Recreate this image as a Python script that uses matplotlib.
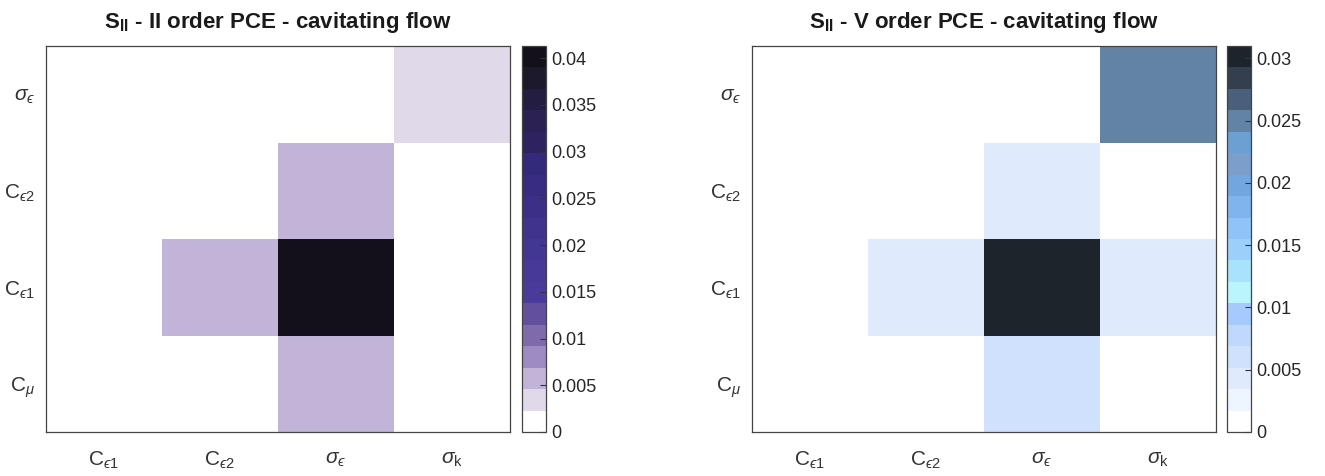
import numpy as np
import matplotlib
matplotlib.use("Agg")
import matplotlib.pyplot as plt
from matplotlib.colors import ListedColormap

plt.rcParams["font.family"] = ["Liberation Sans", "DejaVu Sans"]
plt.rcParams["mathtext.fontset"] = "custom"
plt.rcParams["mathtext.rm"] = "Liberation Sans"
plt.rcParams["mathtext.it"] = "Liberation Sans:italic"
plt.rcParams["mathtext.bf"] = "Liberation Sans:bold"
plt.rcParams["mathtext.fallback"] = "stixsans"

# axis labels (lunate epsilon as in the original)
x_labels = ["C$_{\u03f51}$", "C$_{\u03f52}$", r"$\sigma_{" + "\u03f5" + "}$", r"$\sigma_{\rm k}$"]
y_labels = [r"C$_{\mu}$", "C$_{\u03f51}$", "C$_{\u03f52}$", r"$\sigma_{" + "\u03f5" + "}$"]  # bottom -> top

# second order Sobol indices, rows bottom -> top (C_mu, C_e1, C_e2, sigma_e)
s_ii_order2 = np.array([
    [0.0, 0.0, 0.0060, 0.0],
    [0.0, 0.0060, 0.0413, 0.0],
    [0.0, 0.0, 0.0060, 0.0],
    [0.0, 0.0, 0.0, 0.0035],
])
s_ii_order5 = np.array([
    [0.0, 0.0, 0.0060, 0.0],
    [0.0, 0.0043, 0.0310, 0.0043],
    [0.0, 0.0, 0.0043, 0.0],
    [0.0, 0.0, 0.0, 0.0250],
])

# discrete colormaps (bottom -> top)
purple_colors = ["#ffffff", "#e0d9ea", "#c2b4d8", "#9d8cc3", "#7e6bac", "#62509f",
                 "#4a3a9a", "#473998", "#433794", "#3f338e", "#3b2f88", "#372c80",
                 "#332a7b", "#2e2360", "#2b2152", "#241d42", "#1c192d", "#130f1b"]
blue_colors = ["#ffffff", "#eff5fe", "#dfeafc", "#cfe1fc", "#bfd8fc", "#a7cafc",
               "#baf4fc", "#a9e2fb", "#9ccffa", "#90c3f8", "#80b4ec", "#72a6df",
               "#7b9fca", "#6c9fd2", "#6383a5", "#4a5f7a", "#333f4e", "#1e242c"]

panels = [
    (s_ii_order2, purple_colors, 0.0413, np.arange(0, 0.0401, 0.005),
     r"S$_{\mathbf{II}}$ - II order PCE - cavitating flow",
     [46 / 1325, 522 / 1325]),
    (s_ii_order5, blue_colors, 0.0310, np.arange(0, 0.0301, 0.005),
     r"S$_{\mathbf{II}}$ - V order PCE - cavitating flow",
     [752 / 1325, 1227 / 1325]),
]

fig = plt.figure(figsize=(13.25, 4.76), dpi=100)
bottom = 1 - 432 / 476
height = 386 / 476

for data, colors, vmax, ticks, title, (ax_x, cb_x) in panels:
    ax = fig.add_axes([ax_x, bottom, 464 / 1325, height])
    cmap = ListedColormap(colors)
    mesh = ax.pcolormesh(np.arange(5) - 0.5, np.arange(5) - 0.5, data,
                         cmap=cmap, vmin=0, vmax=vmax)
    ax.set_xticks(range(4))
    ax.set_xticklabels(x_labels, fontsize=15, color="#333333")
    ax.set_yticks(range(4))
    ax.set_yticklabels(y_labels, fontsize=15, color="#333333")
    ax.tick_params(length=0)
    ax.tick_params(axis="x", pad=13)
    ax.tick_params(axis="y", pad=8)
    for sp in ax.spines.values():
        sp.set_color("#444444")
        sp.set_linewidth(0.9)
    ax.set_title(title, fontsize=16, fontweight="bold", pad=13, color="#1a1a1a")

    cax = fig.add_axes([cb_x, bottom, 24 / 1325, height])
    cb = fig.colorbar(mesh, cax=cax, ticks=ticks)
    cb.ax.set_yticklabels([("%g" % t) for t in ticks], fontsize=13, color="#262626")
    cb.ax.tick_params(direction="in", length=4, width=0.8, color="#333333")
    cb.outline.set_edgecolor("#444444")
    cb.outline.set_linewidth(0.9)

fig.savefig("out.png", dpi=100)
